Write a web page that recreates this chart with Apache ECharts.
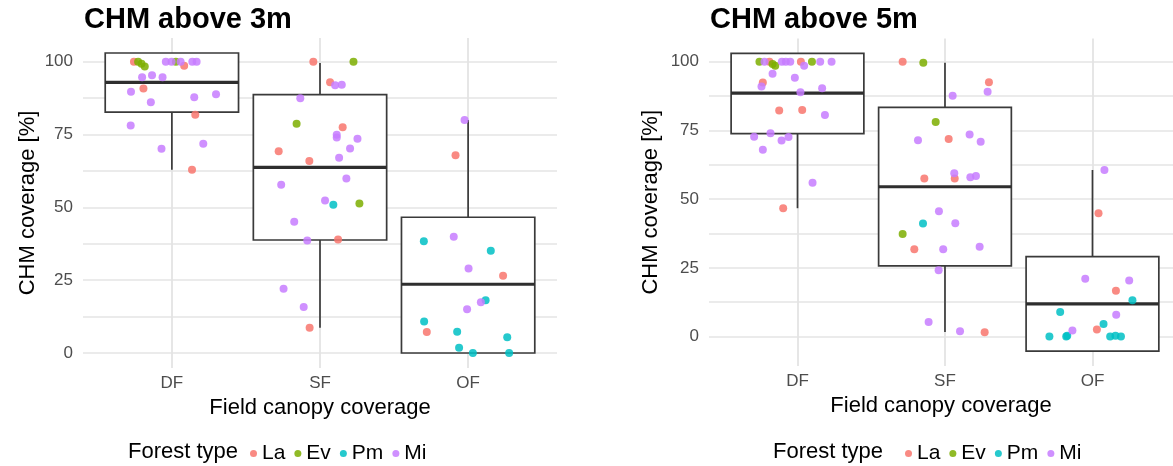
<!DOCTYPE html>
<html>
<head>
<meta charset="utf-8">
<title>CHM coverage vs field canopy coverage</title>
<script src="https://cdn.jsdelivr.net/npm/echarts@6/dist/echarts.min.js"></script>
<style>
  html, body { margin: 0; padding: 0; background: #fff; }
  #chart { width: 1173px; height: 466px; }
</style>
</head>
<body>
<div id="chart"></div>
<script>
// Field canopy classes on the x axis and forest types in the legend
const categories = ['DF', 'SF', 'OF'];
const forestTypes = ['La', 'Ev', 'Pm', 'Mi'];
const yTickLabels = [0, 25, 50, 75, 100];
const yGridValues = [0, 12.5, 25, 37.5, 50, 62.5, 75, 87.5, 100];

// Box statistics per class: [lower whisker, Q1, median, Q3, upper whisker]
const box3m = [
  [62.9, 82.7, 92.9, 103, 103],
  [8.7, 38.8, 63.7, 88.7, 99.6],
  [0, 0, 23.6, 46.6, 80]
];
const box5m = [
  [46.7, 73.8, 88.6, 103, 103],
  [1.7, 25.7, 54.5, 83.4, 99.6],
  [-5.3, -5.3, 11.9, 29.1, 60.6]
];

// Plots: [class, horizontal jitter, CHM coverage %]
const above3m_La = [
  ['DF', -0.256, 100], ['DF', 0.083, 98.6], ['DF', -0.192, 90.8], ['DF', 0.158, 81.8], ['DF', 0.136, 62.9],
  ['SF', -0.045, 100], ['SF', 0.068, 93], ['SF', 0.153, 77.5], ['SF', -0.279, 69.3], ['SF', -0.072, 65.9],
  ['SF', 0.122, 39.0], ['SF', -0.07, 8.7],
  ['OF', -0.085, 67.9], ['OF', 0.236, 26.5], ['OF', -0.279, 7.2]
];
const above3m_Ev = [
  ['DF', -0.228, 100], ['DF', -0.205, 99.3], ['DF', -0.183, 98.4], ['DF', 0.027, 100],
  ['SF', 0.226, 100], ['SF', -0.158, 78.7], ['SF', 0.266, 51.3]
];
const above3m_Pm = [
  ['SF', 0.09, 50.9],
  ['OF', -0.299, 38.4], ['OF', 0.153, 35.1], ['OF', 0.118, 18.1], ['OF', -0.297, 10.8], ['OF', -0.074, 7.3],
  ['OF', 0.264, 5.4], ['OF', -0.061, 1.8], ['OF', 0.032, 0], ['OF', 0.277, 0]
];
const above3m_Mi = [
  ['DF', -0.041, 100], ['DF', -0.002, 100], ['DF', 0.059, 100], ['DF', 0.138, 100], ['DF', 0.167, 100],
  ['DF', -0.201, 94.7], ['DF', -0.134, 95.4], ['DF', -0.063, 94.7], ['DF', -0.276, 89.7], ['DF', -0.142, 86.1],
  ['DF', 0.151, 87.8], ['DF', 0.298, 88.8], ['DF', -0.278, 78.1], ['DF', -0.07, 70.1], ['DF', 0.212, 71.8],
  ['SF', 0.102, 91.9], ['SF', 0.147, 92.1], ['SF', -0.133, 87.5], ['SF', 0.113, 74.9], ['SF', 0.113, 74.0],
  ['SF', 0.253, 73.6], ['SF', 0.203, 70.2], ['SF', 0.129, 67.0], ['SF', 0.178, 59.9], ['SF', -0.262, 57.8],
  ['SF', 0.034, 52.4], ['SF', -0.174, 45.1], ['SF', -0.086, 38.6], ['SF', -0.246, 22.1], ['SF', -0.11, 15.8],
  ['OF', -0.024, 80], ['OF', -0.097, 39.9], ['OF', 0.003, 29.0], ['OF', 0.086, 17.4], ['OF', -0.007, 15.0]
];

const above5m_La = [
  ['DF', -0.19, 100], ['DF', 0.023, 100], ['DF', -0.235, 92.4], ['DF', -0.124, 82.2], ['DF', 0.032, 82.4],
  ['DF', -0.097, 46.7],
  ['SF', -0.287, 100], ['SF', 0.298, 92.5], ['SF', 0.025, 71.9], ['SF', -0.14, 57.5], ['SF', 0.066, 57.5],
  ['SF', -0.208, 31.8], ['SF', 0.269, 1.6],
  ['OF', 0.041, 44.9], ['OF', 0.159, 16.7], ['OF', 0.03, 2.6]
];
const above5m_Ev = [
  ['DF', -0.258, 100], ['DF', -0.169, 99.2], ['DF', -0.151, 98.5], ['DF', 0.098, 100],
  ['SF', -0.147, 99.6], ['SF', -0.063, 78.1], ['SF', -0.287, 37.3]
];
const above5m_Pm = [
  ['SF', -0.149, 41.1],
  ['OF', 0.271, 13.2], ['OF', -0.219, 8.9], ['OF', 0.075, 4.6], ['OF', -0.292, 0], ['OF', -0.178, 0],
  ['OF', -0.171, 0.3], ['OF', 0.12, 0], ['OF', 0.156, 0.3], ['OF', 0.193, 0]
];
const above5m_Mi = [
  ['DF', -0.224, 100], ['DF', -0.106, 100], ['DF', -0.079, 100], ['DF', -0.049, 100], ['DF', 0.045, 98.5],
  ['DF', 0.154, 100], ['DF', 0.231, 100], ['DF', -0.169, 95.6], ['DF', -0.018, 94.2], ['DF', -0.244, 91.0],
  ['DF', 0.02, 88.9], ['DF', 0.167, 90.3], ['DF', 0.186, 80.6], ['DF', -0.294, 72.7], ['DF', -0.183, 74.0],
  ['DF', -0.108, 71.3], ['DF', -0.061, 72.6], ['DF', -0.235, 68.0], ['DF', 0.102, 56.0],
  ['SF', 0.289, 89.1], ['SF', 0.052, 87.6], ['SF', -0.183, 71.4], ['SF', 0.167, 73.5], ['SF', 0.242, 70.9],
  ['SF', 0.063, 59.4], ['SF', 0.172, 58.0], ['SF', 0.21, 58.4], ['SF', -0.041, 45.6], ['SF', 0.07, 41.2],
  ['SF', -0.012, 31.8], ['SF', 0.235, 32.7], ['SF', -0.043, 24.1], ['SF', -0.111, 5.3], ['SF', 0.102, 1.9],
  ['OF', 0.081, 60.6], ['OF', -0.049, 21.0], ['OF', 0.249, 20.4], ['OF', 0.161, 7.9], ['OF', -0.136, 2.2]
];

const panels = [
  { title: 'CHM above 3m', box: box3m, points: { La: above3m_La, Ev: above3m_Ev, Pm: above3m_Pm, Mi: above3m_Mi } },
  { title: 'CHM above 5m', box: box5m, points: { La: above5m_La, Ev: above5m_Ev, Pm: above5m_Pm, Mi: above5m_Mi } }
];

const typeColors = { La: '#F8766D', Ev: '#7CAE00', Pm: '#00BFC4', Mi: '#C77CFF' };
const FONT = '"Liberation Sans", Arial, Helvetica, sans-serif';
const GRID_COLOR = '#E4E4E4';

// layout of the two panels; the right panel runs off the page edge, so its x range is cut short
const grids = [
  { left: 83, right: 616, top: 38, bottom: 98 },
  { left: 709, right: 0, top: 38.6, bottom: 100 }
];
const xRanges = [[0.4, 3.6], [0.4, 3.546]];
const yRanges = [[-5.15, 108.15], [-10.7, 108.4]];
const yNameGaps = [44, 47];

const catPos = c => categories.indexOf(c) + 1;

function renderBox(params, api) {
  const x = api.value(0);
  const lo = api.value(1), q1 = api.value(2), med = api.value(3), q3 = api.value(4), hi = api.value(5);
  const half = 0.45;
  const tl = api.coord([x - half, q3]);
  const br = api.coord([x + half, q1]);
  const cHi = api.coord([x, hi]);
  const cLo = api.coord([x, lo]);
  const mL = api.coord([x - half, med]);
  const mR = api.coord([x + half, med]);
  const stroke = '#3A3A3A';
  return {
    type: 'group',
    children: [
      { type: 'line', shape: { x1: cHi[0], y1: cHi[1], x2: cHi[0], y2: tl[1] }, style: { stroke, lineWidth: 1.7 } },
      { type: 'line', shape: { x1: cLo[0], y1: br[1], x2: cLo[0], y2: cLo[1] }, style: { stroke, lineWidth: 1.7 } },
      { type: 'rect', shape: { x: tl[0], y: tl[1], width: br[0] - tl[0], height: br[1] - tl[1] },
        style: { fill: '#FFFFFF', stroke, lineWidth: 1.7 } },
      { type: 'line', shape: { x1: mL[0], y1: mL[1], x2: mR[0], y2: mR[1] }, style: { stroke: '#2E2E2E', lineWidth: 3.2 } }
    ]
  };
}

const xAxes = [], yAxes = [], series = [], titles = [], legends = [], graphics = [];

panels.forEach((p, i) => {
  titles.push({
    text: p.title, left: [84, 710][i], top: 5, padding: 0,
    textStyle: { fontFamily: FONT, fontSize: 29, fontWeight: 'bold', color: '#000' }
  });
  xAxes.push({
    type: 'value', gridIndex: i, min: xRanges[i][0], max: xRanges[i][1],
    name: 'Field canopy coverage', nameLocation: 'middle', nameGap: 28,
    nameTextStyle: { fontFamily: FONT, fontSize: 22, color: '#000' },
    axisLine: { show: false },
    axisTick: { show: false, customValues: [1, 2, 3] },
    axisLabel: { customValues: [1, 2, 3], formatter: v => categories[Math.round(v) - 1],
      fontFamily: FONT, fontSize: 17, color: '#4D4D4D', margin: 7 },
    splitLine: { show: true, lineStyle: { color: GRID_COLOR, width: 1.8 } }
  });
  yAxes.push({
    type: 'value', gridIndex: i, min: yRanges[i][0], max: yRanges[i][1],
    name: 'CHM coverage [%]', nameLocation: 'middle', nameGap: yNameGaps[i],
    nameTextStyle: { fontFamily: FONT, fontSize: 22, color: '#000' },
    axisLine: { show: false },
    axisTick: { show: false, customValues: yGridValues },
    axisLabel: { customValues: yTickLabels, fontFamily: FONT, fontSize: 17, color: '#4D4D4D', margin: 10 },
    splitLine: { show: true, lineStyle: { color: GRID_COLOR, width: 1.6 } }
  });
  series.push({
    type: 'custom', name: 'box' + i, xAxisIndex: i, yAxisIndex: i, z: 2,
    renderItem: renderBox,
    encode: { x: 0, y: [1, 2, 3, 4, 5] },
    data: p.box.map((b, k) => [k + 1].concat(b)),
    silent: true
  });
  forestTypes.forEach(t => {
    series.push({
      type: 'scatter', name: t, xAxisIndex: i, yAxisIndex: i, z: 3,
      symbol: 'circle', symbolSize: 8,
      itemStyle: { color: typeColors[t], opacity: 0.85 },
      data: p.points[t].map(d => [catPos(d[0]) + d[1], d[2]])
    });
  });
  graphics.push({
    type: 'text', left: [128, 773][i], top: 441,
    style: { text: 'Forest type', font: '22px ' + FONT, fill: '#000' }
  });
  legends.push({
    data: forestTypes, left: [245, 900][i], top: 438, orient: 'horizontal',
    icon: 'circle', itemWidth: 7, itemHeight: 7, itemGap: 9,
    textStyle: { fontFamily: FONT, fontSize: 21, color: '#000' },
    selectedMode: false
  });
});

const chart = echarts.init(document.getElementById('chart'), null, { renderer: 'canvas' });
chart.setOption({
  backgroundColor: '#FFFFFF',
  animation: false,
  title: titles,
  legend: legends,
  grid: grids,
  xAxis: xAxes,
  yAxis: yAxes,
  graphic: graphics,
  series: series
});
</script>
</body>
</html>
